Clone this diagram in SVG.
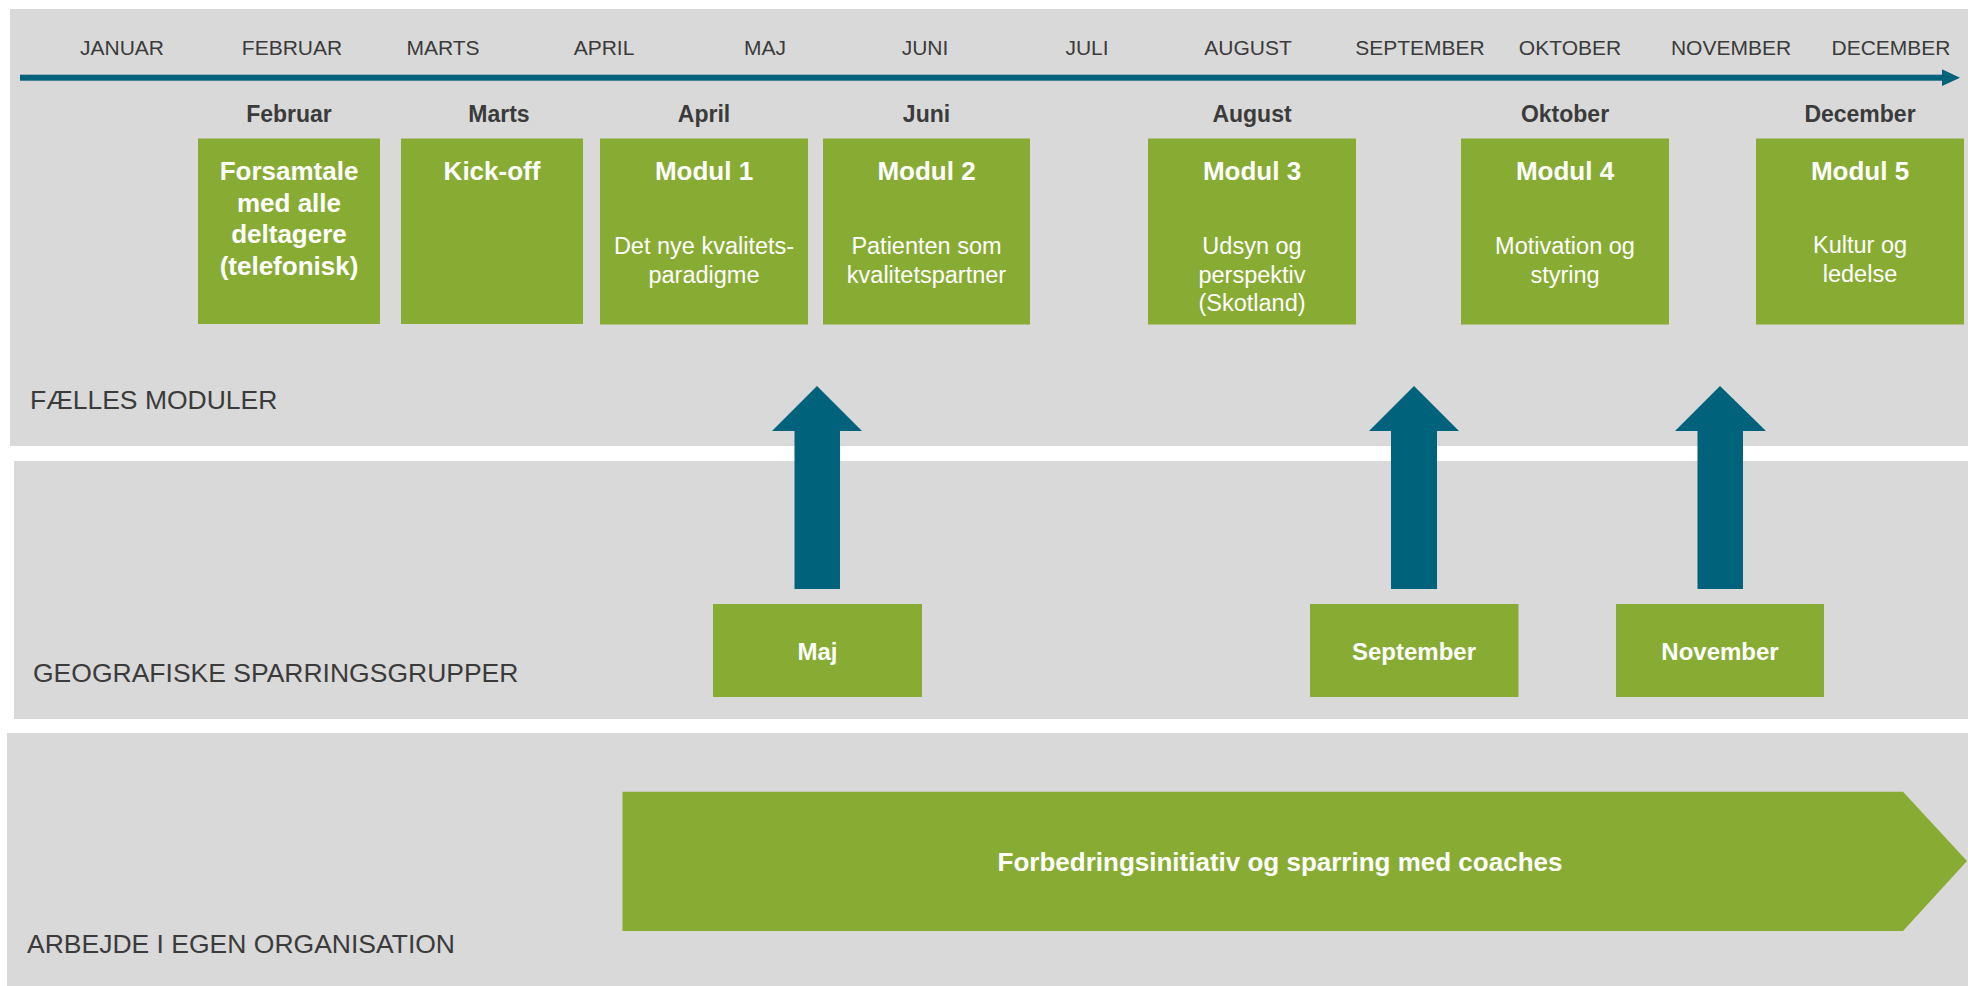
<svg xmlns="http://www.w3.org/2000/svg" width="1968" height="986" viewBox="0 0 1968 986">
<style>
.panel{fill:#D9D9D9}
.box{fill:#88AC33}
.arr{fill:#00627B}
.month{font-family:"Liberation Sans",Arial,sans-serif;font-size:21px;fill:#3B3B3B;text-anchor:middle}
.hdr{font-family:"Liberation Sans",Arial,sans-serif;font-size:23px;font-weight:bold;fill:#3B3B3B;text-anchor:middle}
.ttl{font-family:"Liberation Sans",Arial,sans-serif;font-size:26px;font-weight:bold;fill:#FFFFFF;text-anchor:middle}
.sub{font-family:"Liberation Sans",Arial,sans-serif;font-size:23.5px;fill:#FFFFFF;text-anchor:middle}
.gt{font-family:"Liberation Sans",Arial,sans-serif;font-size:24px;font-weight:bold;fill:#FFFFFF;text-anchor:middle}
.sec{font-family:"Liberation Sans",Arial,sans-serif;font-size:26.5px;fill:#3B3B3B}
</style>
<rect width="1968" height="986" fill="#FFFFFF"/>
<g id="panels">
<rect class="panel" x="10" y="9" width="1958" height="437"/>
<rect class="panel" x="14" y="461" width="1954" height="258"/>
<rect class="panel" x="7" y="733" width="1961" height="253"/>
<text class="sec" x="30" y="409" font-size="25.3">FÆLLES MODULER</text>
<text class="sec" x="33" y="682">GEOGRAFISKE SPARRINGSGRUPPER</text>
<text class="sec" x="27" y="953">ARBEJDE I EGEN ORGANISATION</text>
</g>
<g id="timeline">
<rect class="arr" x="20" y="74.7" width="1924" height="6"/>
<polygon class="arr" points="1942,69.3 1960,77.7 1942,86"/>
<text class="month" x="122" y="55">JANUAR</text>
<text class="month" x="292" y="55">FEBRUAR</text>
<text class="month" x="443" y="55">MARTS</text>
<text class="month" x="604" y="55">APRIL</text>
<text class="month" x="765" y="55">MAJ</text>
<text class="month" x="925" y="55">JUNI</text>
<text class="month" x="1087" y="55">JULI</text>
<text class="month" x="1248" y="55">AUGUST</text>
<text class="month" x="1420" y="55">SEPTEMBER</text>
<text class="month" x="1570" y="55">OKTOBER</text>
<text class="month" x="1731" y="55">NOVEMBER</text>
<text class="month" x="1891" y="55">DECEMBER</text>
</g>
<g id="forsamtale">
<text class="hdr" x="289" y="121.5">Februar</text>
<rect class="box" x="198" y="138.5" width="182" height="185.5"/>
<text class="ttl" x="289" y="180">Forsamtale</text>
<text class="ttl" x="289" y="211.7">med alle</text>
<text class="ttl" x="289" y="243.3">deltagere</text>
<text class="ttl" x="289" y="275">(telefonisk)</text>
</g>
<g id="kickoff">
<text class="hdr" x="499" y="121.5">Marts</text>
<rect class="box" x="401" y="138.5" width="182" height="185.5"/>
<text class="ttl" x="492" y="180">Kick-off</text>
</g>
<g id="modul1">
<text class="hdr" x="704" y="121.5">April</text>
<rect class="box" x="600" y="138.5" width="208" height="186"/>
<text class="ttl" x="704" y="180">Modul 1</text>
<text class="sub" x="704" y="254">Det nye kvalitets-</text>
<text class="sub" x="704" y="282.5">paradigme</text>
</g>
<g id="modul2">
<text class="hdr" x="926.5" y="121.5">Juni</text>
<rect class="box" x="823" y="138.5" width="207" height="186"/>
<text class="ttl" x="926.5" y="180">Modul 2</text>
<text class="sub" x="926.5" y="254">Patienten som</text>
<text class="sub" x="926.5" y="282.5">kvalitetspartner</text>
</g>
<g id="modul3">
<text class="hdr" x="1252" y="121.5">August</text>
<rect class="box" x="1148" y="138.5" width="208" height="186"/>
<text class="ttl" x="1252" y="180">Modul 3</text>
<text class="sub" x="1252" y="254">Udsyn og</text>
<text class="sub" x="1252" y="282.5">perspektiv</text>
<text class="sub" x="1252" y="311">(Skotland)</text>
</g>
<g id="modul4">
<text class="hdr" x="1565" y="121.5">Oktober</text>
<rect class="box" x="1461" y="138.5" width="208" height="186"/>
<text class="ttl" x="1565" y="180">Modul 4</text>
<text class="sub" x="1565" y="254">Motivation og</text>
<text class="sub" x="1565" y="282.5">styring</text>
</g>
<g id="modul5">
<text class="hdr" x="1860" y="121.5">December</text>
<rect class="box" x="1756" y="138.5" width="208" height="186"/>
<text class="ttl" x="1860" y="180">Modul 5</text>
<text class="sub" x="1860" y="253">Kultur og</text>
<text class="sub" x="1860" y="281.5">ledelse</text>
</g>
<g id="maj">
<rect class="box" x="713" y="604" width="209" height="93"/>
<text class="gt" x="817.5" y="659.5">Maj</text>
</g>
<g id="september">
<rect class="box" x="1310" y="604" width="208.5" height="93"/>
<text class="gt" x="1414" y="659.5">September</text>
</g>
<g id="november">
<rect class="box" x="1616" y="604" width="208" height="93"/>
<text class="gt" x="1720" y="659.5">November</text>
</g>
<g id="connectors">
<polygon class="arr" points="817,386 862,431 840,431 840,589 794.5,589 794.5,431 772,431"/>
<polygon class="arr" points="1414,386 1459,431 1437,431 1437,589 1391,589 1391,431 1369,431"/>
<polygon class="arr" points="1720,386 1766,431 1743,431 1743,589 1697.5,589 1697.5,431 1675,431"/>
</g>
<g id="forbedring">
<polygon class="box" points="622.5,791.7 1903,791.7 1967,861 1903,931 622.5,931"/>
<text class="ttl" x="1280" y="870.5" font-size="26.5">Forbedringsinitiativ og sparring med coaches</text>
</g>
</svg>
